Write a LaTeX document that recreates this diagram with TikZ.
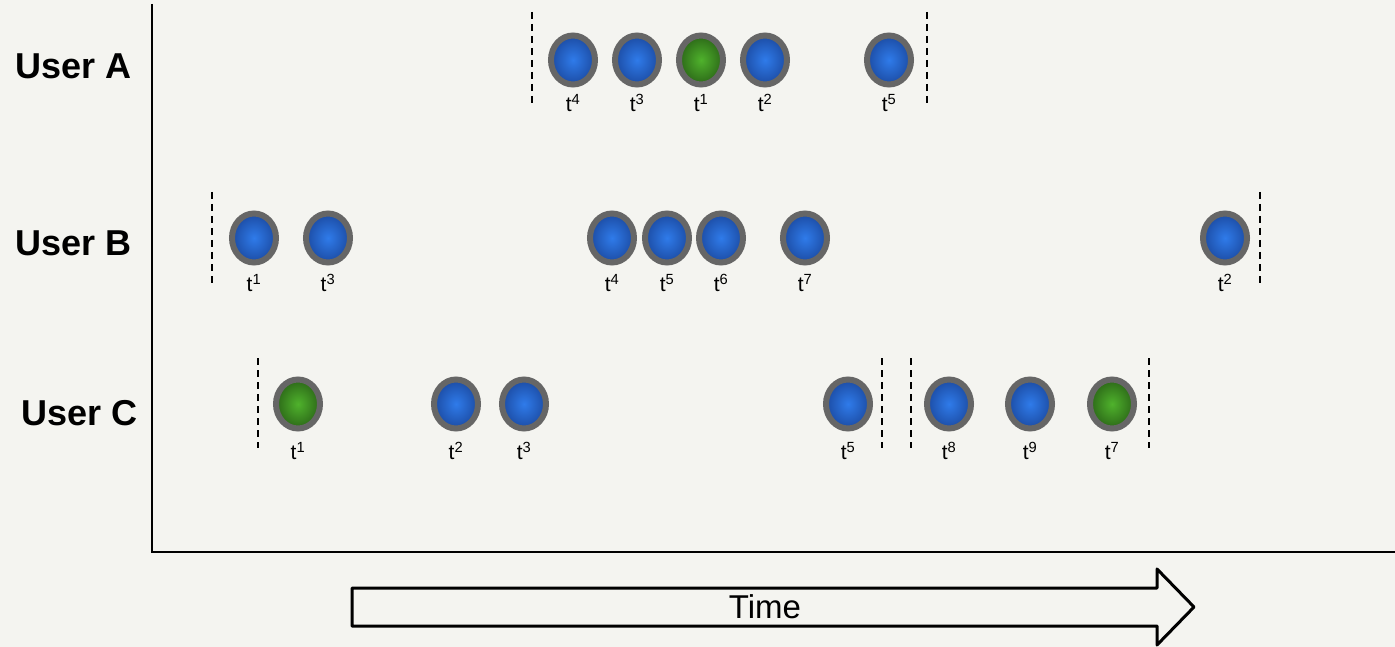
\documentclass[tikz,border=0pt]{standalone}
\usepackage{fontspec}
\setmainfont{Liberation Sans}
\usetikzlibrary{positioning,shapes}
\usepackage{xcolor}
\definecolor{paper}{HTML}{F4F4F0}
\definecolor{ring}{HTML}{666666}
\definecolor{bluein}{HTML}{2F7BEA}
\definecolor{blueout}{HTML}{1C4CA4}
\definecolor{greenin}{HTML}{4FB22C}
\definecolor{greenout}{HTML}{2C6818}

\begin{document}
\begin{tikzpicture}
[x=1pt, y=-1pt,
% The ball style is used to draw one post of a user on the time line
ball/.style={ellipse, draw=ring, line width=6pt, minimum width=44pt, minimum height=49pt, inner sep=0pt, shading=radial},
blueball/.style={ball, inner color=bluein, outer color=blueout},
greenball/.style={ball, inner color=greenin, outer color=greenout},
% The stamp style is used to write the time of each post
stamp/.style={inner sep=0pt, font=\fontsize{21}{24}\selectfont},
user/.style={inner sep=0pt, font=\fontsize{36}{40}\selectfont\bfseries},
cut/.style={line width=2pt, dash pattern=on 7pt off 5pt}
]
% Paper and frame
\fill[paper] (0,0) rectangle (1395,647);
\useasboundingbox (0,0) rectangle (1395,647);
\coordinate (top) at (152,4);
\coordinate (origin) at (152,552);
\coordinate (right) at (1395,552);
\draw[line width=2pt] (top) -- (origin) -- (right);
% Users
\node[user] (ua) at (74,66) {User A};
\node[user] (ub) at (74,243) {User B};
\node[user] (uc) at (80,413) {User C};
% User A
\draw[cut] (532,12) -- (532,104);
\draw[cut] (927,12) -- (927,104);
\node[blueball] (a4) at (573,60) {};
\node[blueball] (a3) at (637,60) {};
\node[greenball] (a1) at (701,60) {};
\node[blueball] (a2) at (765,60) {};
\node[blueball] (a5) at (889,60) {};
\node[stamp] (ta4) at (573,103) {t\textsuperscript{4}};
\node[stamp] (ta3) at (637,103) {t\textsuperscript{3}};
\node[stamp] (ta1) at (701,103) {t\textsuperscript{1}};
\node[stamp] (ta2) at (765,103) {t\textsuperscript{2}};
\node[stamp] (ta5) at (889,103) {t\textsuperscript{5}};
% User B
\draw[cut] (212,192) -- (212,283);
\draw[cut] (1260,192) -- (1260,283);
\node[blueball] (b1) at (254,238) {};
\node[blueball] (b3) at (328,238) {};
\node[blueball] (b4) at (612,238) {};
\node[blueball] (b5) at (667,238) {};
\node[blueball] (b6) at (721,238) {};
\node[blueball] (b7) at (805,238) {};
\node[blueball] (b2) at (1225,238) {};
\node[stamp] (tb1) at (254,283) {t\textsuperscript{1}};
\node[stamp] (tb3) at (328,283) {t\textsuperscript{3}};
\node[stamp] (tb4) at (612,283) {t\textsuperscript{4}};
\node[stamp] (tb5) at (667,283) {t\textsuperscript{5}};
\node[stamp] (tb6) at (721,283) {t\textsuperscript{6}};
\node[stamp] (tb7) at (805,283) {t\textsuperscript{7}};
\node[stamp] (tb2) at (1225,283) {t\textsuperscript{2}};
% User C
\draw[cut] (258,358) -- (258,448);
\draw[cut] (882,358) -- (882,448);
\draw[cut] (911,358) -- (911,448);
\draw[cut] (1149,358) -- (1149,448);
\node[greenball] (c1) at (298,404) {};
\node[blueball] (c2) at (456,404) {};
\node[blueball] (c3) at (524,404) {};
\node[blueball] (c5) at (848,404) {};
\node[blueball] (c8) at (949,404) {};
\node[blueball] (c9) at (1030,404) {};
\node[greenball] (c7) at (1112,404) {};
\node[stamp] (tc1) at (298,451) {t\textsuperscript{1}};
\node[stamp] (tc2) at (456,451) {t\textsuperscript{2}};
\node[stamp] (tc3) at (524,451) {t\textsuperscript{3}};
\node[stamp] (tc5) at (848,451) {t\textsuperscript{5}};
\node[stamp] (tc8) at (949,451) {t\textsuperscript{8}};
\node[stamp] (tc9) at (1030,451) {t\textsuperscript{9}};
\node[stamp] (tc7) at (1112,451) {t\textsuperscript{7}};
% Time arrow
\draw[line width=3pt, line join=round, fill=paper] (352,588) -- (1157,588) -- (1157,569) -- (1194,607) -- (1157,645) -- (1157,626) -- (352,626) -- cycle;
\node[inner sep=0pt, font=\fontsize{33}{36}\selectfont] (time) at (765,607) {Time};
\end{tikzpicture}
\end{document}
